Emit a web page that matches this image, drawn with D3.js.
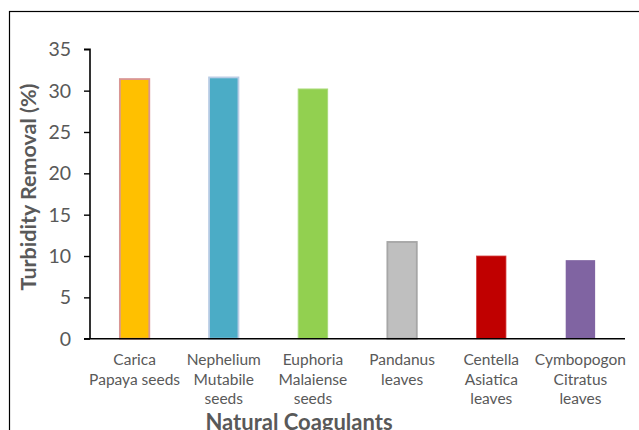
<!DOCTYPE html>
<html>
<head>
<meta charset="utf-8">
<script src="https://cdn.jsdelivr.net/npm/d3@7"></script>
<style>
  html, body { margin: 0; padding: 0; background: #fff; overflow: hidden; }
  svg { display: block; }
</style>
</head>
<body>
<svg id="chart" width="639" height="430"></svg>
<script>
const categories = ["Carica Papaya seeds", "Nephelium Mutabile seeds", "Euphoria Malaiense seeds", "Pandanus leaves", "Centella Asiatica leaves", "Cymbopogon Citratus leaves"];
const labelLines = [["Carica", "Papaya seeds"], ["Nephelium", "Mutabile", "seeds"], ["Euphoria", "Malaiense", "seeds"], ["Pandanus", "leaves"], ["Centella", "Asiatica", "leaves"], ["Cymbopogon", "Citratus", "leaves"]];
const values = [31.4, 31.6, 30.2, 11.7, 10.0, 9.5];
const fills = ["#FFC000", "#4BACC6", "#92D050", "#BFBFBF", "#C00000", "#8064A2"];
const strokes = ["#D99694", "#B9CDE5", "#A9DB7A", "#A6A6A6", "#D43A3A", "#8064A2"];
const yTicks = [0, 5, 10, 15, 20, 25, 30, 35];
const yTitle = "Turbidity Removal (%)";
const xTitle = "Natural Coagulants";

const svg = d3.select("#chart");
const font = "Lato, 'Open Sans', sans-serif";
const textColor = "#595959";

// outer frame (chart area border, clipped at right/bottom)
svg.append("rect")
  .attr("x", 9.5).attr("y", 11.5)
  .attr("width", 700).attr("height", 500)
  .attr("fill", "none").attr("stroke", "#000").attr("stroke-width", 1.2);

const x0 = 90, x1 = 625, yTop = 49.3, yBot = 338.7;

const x = d3.scaleBand().domain(categories).range([x0, x1]).paddingInner(0.67).paddingOuter(0.335);
const y = d3.scaleLinear().domain([0, 35]).range([yBot, yTop]);

// bars
svg.append("g").selectAll("rect").data(values).join("rect")
  .attr("x", (d, i) => x(categories[i]))
  .attr("y", d => y(d))
  .attr("width", x.bandwidth())
  .attr("height", d => yBot - y(d))
  .attr("fill", (d, i) => fills[i])
  .attr("stroke", (d, i) => strokes[i])
  .attr("stroke-width", (d, i) => [1.8, 1.8, 1, 1.8, 0.8, 0][i]);

// y axis
const yAxis = d3.axisLeft(y).tickValues(yTicks).tickSize(6).tickPadding(13).tickFormat(d3.format("d"));
const gy = svg.append("g").attr("transform", `translate(${x0},0)`).call(yAxis);
gy.select(".domain").attr("stroke", "#000").attr("stroke-width", 1.6).attr("d", `M-6,${yTop}H0V${yBot}`);
gy.selectAll(".tick line").attr("stroke", "#000").attr("stroke-width", 1.4);
gy.selectAll(".tick text").attr("fill", textColor).attr("font-family", font).attr("font-size", 19.5).attr("dy", "0.34em");

// x axis
const xAxis = d3.axisBottom(x).tickSize(0).tickFormat("");
const gx = svg.append("g").attr("transform", `translate(0,${yBot})`).call(xAxis);
gx.select(".domain").attr("stroke", "#000").attr("stroke-width", 1.6).attr("d", `M${x0 - 6},0H${x1}`);

// category labels
gx.selectAll(".tick").each(function(d, i) {
  const t = d3.select(this).append("text")
    .attr("fill", textColor).attr("font-family", font).attr("font-size", 15.5)
    .attr("text-anchor", "middle");
  labelLines[i].forEach((line, j) => {
    t.append("tspan").attr("x", 0).attr("y", 26.5 + j * 19.5).text(line);
  });
});

// axis titles
svg.append("text")
  .attr("transform", `translate(36,187) rotate(-90)`)
  .attr("text-anchor", "middle")
  .attr("fill", textColor).attr("font-family", font).attr("font-weight", "bold").attr("font-size", 21.5)
  .text(yTitle);

svg.append("text")
  .attr("x", 299).attr("y", 430)
  .attr("text-anchor", "middle")
  .attr("fill", textColor).attr("font-family", font).attr("font-weight", "bold").attr("font-size", 22)
  .text(xTitle);
</script>
</body>
</html>
